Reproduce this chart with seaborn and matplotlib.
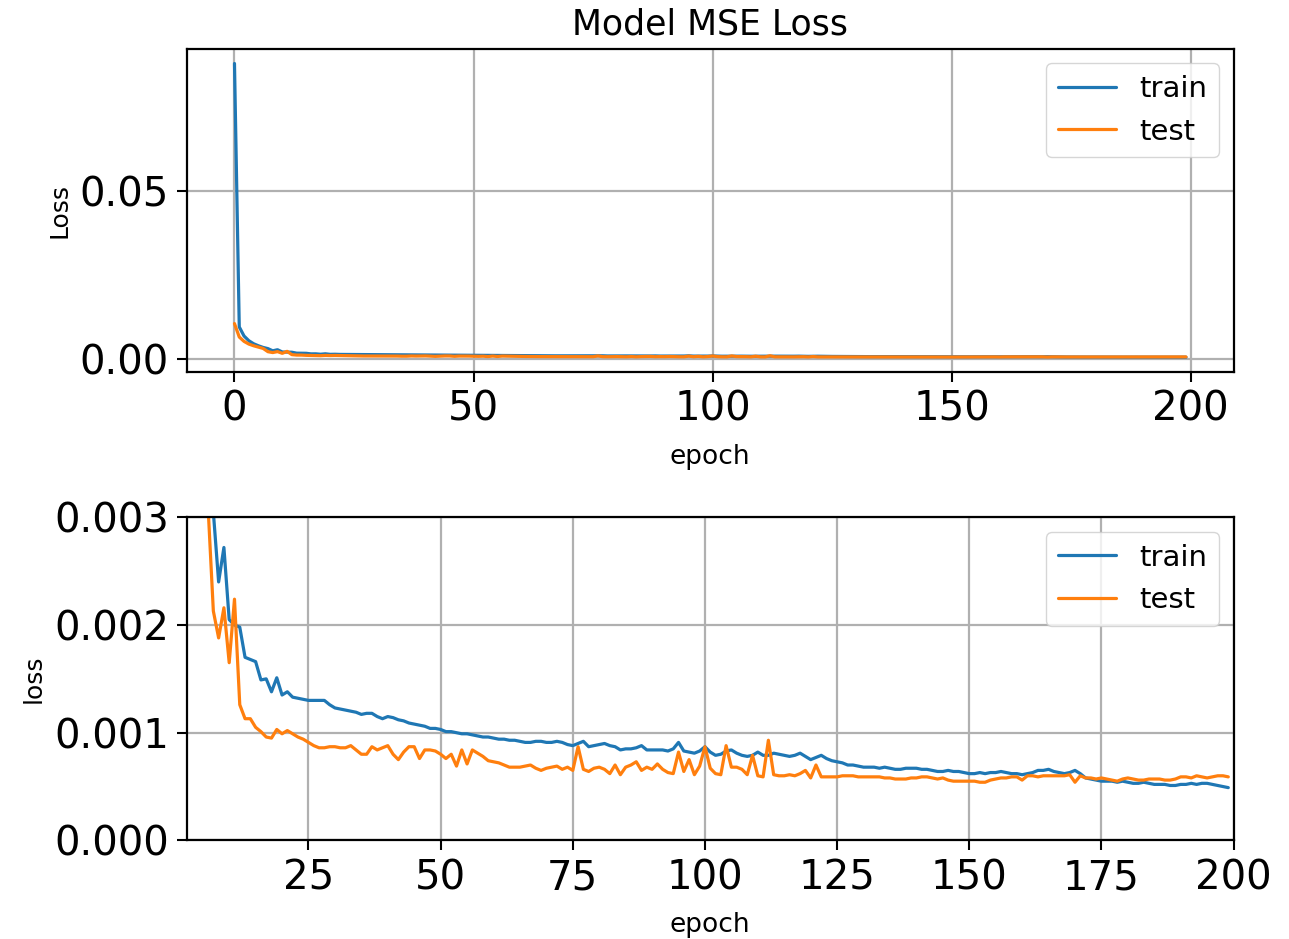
import numpy as np
import pandas as pd
import seaborn as sns
import matplotlib
matplotlib.use("Agg")
import matplotlib.pyplot as plt

## Data
train_loss = [
    0.0878, 0.0095, 0.0068, 0.0054, 0.0045, 0.0039, 0.0034, 0.00305, 0.00240, 0.00272,
    0.00205, 0.00200, 0.00198, 0.00170, 0.00168, 0.00166, 0.00149, 0.00150, 0.00138, 0.00151,
    0.00135, 0.00138, 0.00133, 0.00132, 0.00131, 0.00130, 0.00130, 0.00130, 0.00130, 0.00126,
    0.00123, 0.00122, 0.00121, 0.00120, 0.00119, 0.00117, 0.00118, 0.00118, 0.00115, 0.00113,
    0.00115, 0.00114, 0.00112, 0.00111, 0.00109, 0.00108, 0.00107, 0.00106, 0.00104, 0.00104,
    0.00103, 0.00101, 0.00101, 0.00100, 0.00099, 0.00099, 0.00098, 0.00097, 0.00096, 0.00096,
    0.00095, 0.00094, 0.00094, 0.00093, 0.00093, 0.00092, 0.00091, 0.00091, 0.00092, 0.00092,
    0.00091, 0.00091, 0.00092, 0.00091, 0.00089, 0.00088, 0.00090, 0.00092, 0.00087, 0.00088,
    0.00089, 0.00090, 0.00088, 0.00087, 0.00084, 0.00085, 0.00085, 0.00086, 0.00088, 0.00084,
    0.00084, 0.00084, 0.00084, 0.00083, 0.00085, 0.00091, 0.00083, 0.00082, 0.00081, 0.00083,
    0.00087, 0.00082, 0.00079, 0.00080, 0.00083, 0.00084, 0.00081, 0.00079, 0.00078, 0.00079,
    0.00082, 0.00079, 0.00079, 0.00081, 0.00080, 0.00079, 0.00078, 0.00079, 0.00081, 0.00078,
    0.00075, 0.00077, 0.00079, 0.00076, 0.00074, 0.00073, 0.00072, 0.00070, 0.00070, 0.00069,
    0.00068, 0.00068, 0.00068, 0.00067, 0.00068, 0.00067, 0.00066, 0.00066, 0.00067, 0.00067,
    0.00067, 0.00066, 0.00066, 0.00065, 0.00064, 0.00064, 0.00065, 0.00064, 0.00064, 0.00063,
    0.00062, 0.00062, 0.00063, 0.00062, 0.00063, 0.00063, 0.00064, 0.00063, 0.00062, 0.00062,
    0.00061, 0.00062, 0.00063, 0.00065, 0.00065, 0.00066, 0.00064, 0.00063, 0.00062, 0.00063,
    0.00065, 0.00062, 0.00058, 0.00057, 0.00056, 0.00055, 0.00055, 0.00055, 0.00054, 0.00055,
    0.00054, 0.00053, 0.00053, 0.00054, 0.00053, 0.00052, 0.00052, 0.00052, 0.00051, 0.00051,
    0.00052, 0.00052, 0.00053, 0.00052, 0.00053, 0.00053, 0.00052, 0.00051, 0.00050, 0.00049,
]
test_loss = [
    0.0105, 0.0065, 0.0052, 0.0044, 0.0039, 0.0035, 0.0031, 0.00213, 0.00188, 0.00216,
    0.00165, 0.00224, 0.00126, 0.00113, 0.00113, 0.00105, 0.00101, 0.00096, 0.00095, 0.00103,
    0.00099, 0.00102, 0.00099, 0.00096, 0.00094, 0.00091, 0.00088, 0.00086, 0.00086, 0.00087,
    0.00087, 0.00086, 0.00086, 0.00088, 0.00084, 0.00080, 0.00080, 0.00087, 0.00084, 0.00086,
    0.00088, 0.00080, 0.00075, 0.00082, 0.00087, 0.00087, 0.00076, 0.00084, 0.00084, 0.00083,
    0.00080, 0.00076, 0.00080, 0.00069, 0.00084, 0.00071, 0.00084, 0.00081, 0.00078, 0.00074,
    0.00073, 0.00072, 0.00070, 0.00068, 0.00068, 0.00068, 0.00069, 0.00070, 0.00067, 0.00065,
    0.00067, 0.00068, 0.00069, 0.00066, 0.00068, 0.00065, 0.00087, 0.00066, 0.00064, 0.00067,
    0.00068, 0.00066, 0.00062, 0.00070, 0.00061, 0.00068, 0.00070, 0.00073, 0.00065, 0.00068,
    0.00066, 0.00071, 0.00066, 0.00063, 0.00062, 0.00082, 0.00064, 0.00075, 0.00061, 0.00069,
    0.00087, 0.00067, 0.00062, 0.00061, 0.00088, 0.00068, 0.00068, 0.00066, 0.00061, 0.00079,
    0.00060, 0.00059, 0.00093, 0.00061, 0.00060, 0.00060, 0.00061, 0.00060, 0.00062, 0.00065,
    0.00058, 0.00070, 0.00059, 0.00059, 0.00059, 0.00059, 0.00060, 0.00060, 0.00060, 0.00059,
    0.00059, 0.00059, 0.00059, 0.00059, 0.00058, 0.00058, 0.00057, 0.00057, 0.00057, 0.00058,
    0.00058, 0.00059, 0.00059, 0.00058, 0.00057, 0.00058, 0.00056, 0.00055, 0.00055, 0.00055,
    0.00055, 0.00055, 0.00054, 0.00054, 0.00056, 0.00057, 0.00058, 0.00058, 0.00059, 0.00059,
    0.00056, 0.00060, 0.00060, 0.00059, 0.00060, 0.00060, 0.00060, 0.00060, 0.00060, 0.00061,
    0.00054, 0.00060, 0.00058, 0.00058, 0.00057, 0.00058, 0.00057, 0.00056, 0.00055, 0.00057,
    0.00058, 0.00057, 0.00056, 0.00056, 0.00057, 0.00057, 0.00057, 0.00056, 0.00056, 0.00057,
    0.00059, 0.00059, 0.00058, 0.00060, 0.00059, 0.00058, 0.00059, 0.00060, 0.00060, 0.00059,
]
epochs = list(range(len(train_loss)))

hist = pd.DataFrame({"epoch": epochs, "train": train_loss, "test": test_loss})

sns.set_style("ticks", {"axes.grid": True, "grid.color": "#b0b0b0",
                        "axes.edgecolor": "black", "text.color": "black",
                        "axes.labelcolor": "black", "xtick.color": "black",
                        "ytick.color": "black"})
plt.rcParams["font.family"] = ["DejaVu Sans"]

fig, (ax1, ax2) = plt.subplots(2, 1, figsize=(12.89, 9.39), dpi=100)
plt.subplots_adjust(left=0.145, right=0.957, top=0.948, bottom=0.105, hspace=0.45)

blue = "#1f77b4"
orange = "#ff7f0e"
lw = 2.3

## Full history
sns.lineplot(data=hist, x="epoch", y="train", ax=ax1, color=blue, lw=lw, label="train")
sns.lineplot(data=hist, x="epoch", y="test", ax=ax1, color=orange, lw=lw, label="test")
ax1.set_title("Model MSE Loss", fontsize=25, pad=10)
ax1.set_ylabel("Loss", fontsize=18, labelpad=6)
ax1.set_xlabel("epoch", fontsize=19, labelpad=10)
ax1.set_xticks([0, 50, 100, 150, 200])
ax1.set_yticks([0.0, 0.05])
ax1.set_yticklabels(["0.00", "0.05"])
ax1.tick_params(labelsize=29, length=7, width=1.5, pad=6)

## Zoomed history
sns.lineplot(data=hist, x="epoch", y="train", ax=ax2, color=blue, lw=lw, label="train")
sns.lineplot(data=hist, x="epoch", y="test", ax=ax2, color=orange, lw=lw, label="test")
ax2.set_ylim(0, 0.003)
ax2.set_xlim(2, 200)
ax2.set_yticks([0.0, 0.001, 0.002, 0.003])
ax2.set_yticklabels(["0.000", "0.001", "0.002", "0.003"])
ax2.set_xticks([25, 50, 75, 100, 125, 150, 175, 200])
ax2.set_ylabel("loss", fontsize=18, labelpad=6)
ax2.set_xlabel("epoch", fontsize=19, labelpad=10)
ax2.tick_params(labelsize=29, length=7, width=1.5, pad=6)

for ax in (ax1, ax2):
    for s in ax.spines.values():
        s.set_linewidth(1.6)
    ax.grid(True, color="#b0b0b0", lw=1.6)
    ax.legend(loc="upper right", fontsize=21, frameon=True, fancybox=True,
              edgecolor="#cccccc", framealpha=0.8, handlelength=2.0)

plt.savefig("out.png", dpi=100)
